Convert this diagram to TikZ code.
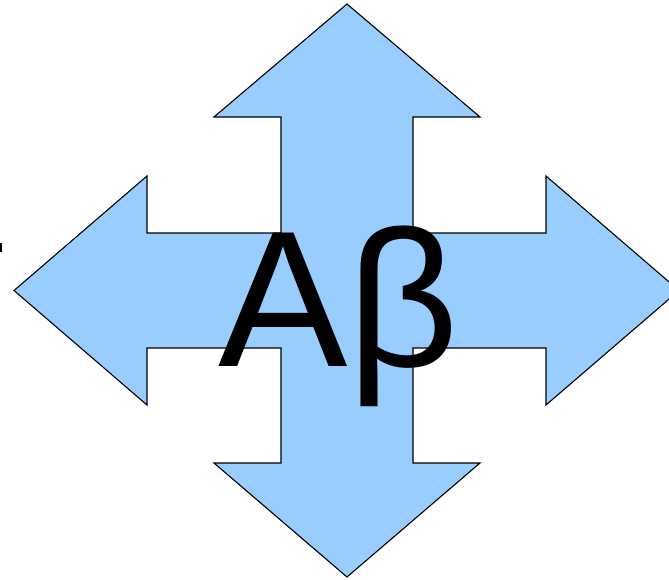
\documentclass[tikz,border=0pt]{standalone}
\usepackage{fontspec}
\setmainfont{Liberation Sans}
\definecolor{arrowblue}{HTML}{99CCFF}
\tikzset{
  bigarrow/.style={fill=arrowblue, draw=black, line width=1.1pt, line join=miter},
  label text/.style={inner sep=0pt, anchor=base west, font=\fontsize{194}{194}\selectfont}
}
\begin{document}
\begin{tikzpicture}[x=1pt,y=-1pt]
\useasboundingbox (0,0) rectangle (669,580);
\clip (0,0) rectangle (669,580);
\fill[white] (0,0) rectangle (669,580);
\draw[bigarrow] (347,4) -- (480,117) -- (413,117) -- (413,233) -- (546,233) -- (546,176)
  -- (679,290.5) -- (546,405) -- (546,348) -- (413,348) -- (413,463) -- (480,463)
  -- (347,577) -- (214,463) -- (281,463) -- (281,348) -- (147,348) -- (147,405)
  -- (14,290.5) -- (147,176) -- (147,233) -- (281,233) -- (281,117) -- (214,117) -- cycle;
\node[label text] (ab) at (218,366) {Aβ};
\fill[black] (0,243) rectangle (1.5,252);
\end{tikzpicture}
\end{document}
